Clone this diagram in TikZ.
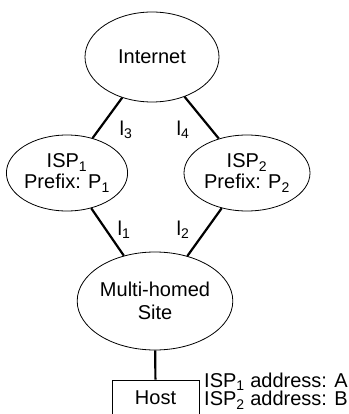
\documentclass[tikz,border=0pt]{standalone}
\usepackage{fontspec}
\setmainfont{Liberation Sans}
\usetikzlibrary{shapes.geometric,positioning}

\begin{document}
\begin{tikzpicture}[
    x=1pt, y=-1pt,
    font=\fontsize{20}{23}\selectfont,
    cloud/.style={draw, ellipse, line width=0.8pt, inner sep=0pt, align=center},
    hostbox/.style={draw, rectangle, line width=0.8pt, minimum width=87pt, minimum height=36pt, inner sep=0pt},
    link/.style={line width=2.2pt},
    tag/.style={inner sep=0pt}
]
\useasboundingbox (0,0) rectangle (348,414);

\node[cloud, minimum width=134pt, minimum height=90pt] (inet) at (152,57) {Internet};
\node[cloud, minimum width=118pt, minimum height=76pt] (isp1) at (67,173) {ISP\textsubscript{1}\\[-2pt]Prefix: P\textsubscript{1}};
\node[cloud, minimum width=126pt, minimum height=76pt] (isp2) at (247,173) {ISP\textsubscript{2}\\[-2pt]Prefix: P\textsubscript{2}};
\node[cloud, minimum width=150pt, minimum height=98pt] (site) at (155,301) {Multi-homed\\Site};
\node[hostbox] (host) at (155.5,398) {Host};

\foreach \i/\j in {inet/isp1, inet/isp2, isp1/site, isp2/site, site/host}
  \draw[link] (\i) -- (\j);

% link labels
\node[tag] (l3) at (126,130) {l\textsubscript{3}};
\node[tag] (l4) at (183,130) {l\textsubscript{4}};
\node[tag] (l1) at (124,230) {l\textsubscript{1}};
\node[tag] (l2) at (183,230) {l\textsubscript{2}};

% host addresses
\node[tag, anchor=west, align=left, font=\fontsize{20}{16}\selectfont] (addr) at (204,391)
  {ISP\textsubscript{1} address: A\\ISP\textsubscript{2} address: B};
\end{tikzpicture}
\end{document}
